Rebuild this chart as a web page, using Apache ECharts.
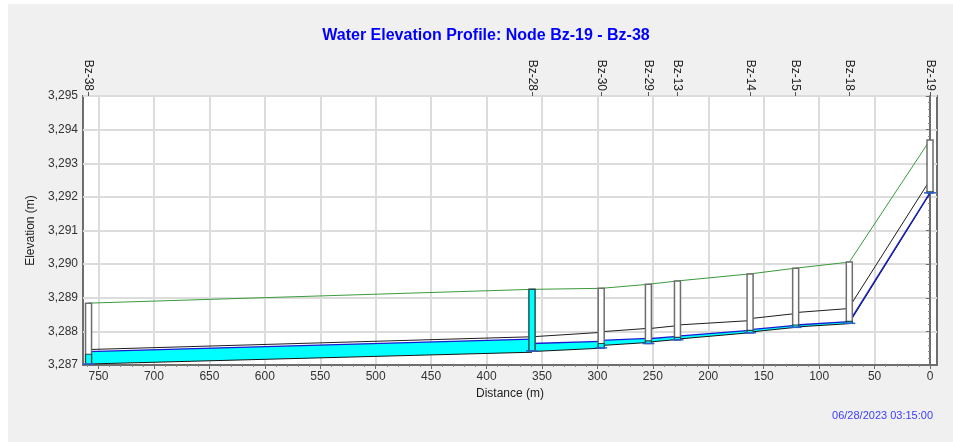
<!DOCTYPE html>
<html>
<head>
<meta charset="utf-8">
<title>Water Elevation Profile</title>
<script src="https://cdn.jsdelivr.net/npm/echarts@6/dist/echarts.min.js"></script>
<style>
  html, body { margin: 0; padding: 0; background: #ffffff; }
  #panel { position: absolute; left: 8px; top: 4px; width: 945px; height: 438px; background: #f0f0f0; }
  #chart { position: absolute; left: 0; top: 0; width: 953px; height: 442px; }
</style>
</head>
<body>
<div id="panel"></div>
<div id="chart"></div>
<script>
// Nodes along the profile (distance measured from Bz-19)
const nodeNames   = ['Bz-38', 'Bz-28', 'Bz-30', 'Bz-29', 'Bz-13', 'Bz-14', 'Bz-15', 'Bz-18', 'Bz-19'];
const nodeDist    = [759, 359, 296.6, 254, 227.8, 162.3, 121.2, 72.8, 0];
const nodeRim     = [3288.84, 3289.25, 3289.28, 3289.40, 3289.50, 3289.71, 3289.88, 3290.06, 3293.69];
const nodeInvert  = [3287.03, 3287.42, 3287.51, 3287.64, 3287.75, 3287.96, 3288.12, 3288.24, 3292.12];
const nodeWater   = [3287.32, 3289.25, 3287.64, 3287.72, 3287.82, 3288.03, 3288.19, 3288.30, 3292.15];

// Conduits between consecutive nodes: left end (i) and right end (i + 1)
const pipeInvertL = [3287.03, 3287.40, 3287.58, 3287.68, 3287.77, 3287.98, 3288.13, 3288.25];
const pipeInvertR = [3287.38, 3287.50, 3287.67, 3287.76, 3287.96, 3288.12, 3288.23, 3292.10];
const pipeWaterL  = [3287.40, 3287.64, 3287.73, 3287.78, 3287.86, 3288.05, 3288.19, 3288.29];
const pipeWaterR  = [3287.77, 3287.70, 3287.79, 3287.85, 3288.03, 3288.18, 3288.29, 3292.13];
const pipeCrownL  = [3287.46, 3287.84, 3287.99, 3288.08, 3288.19, 3288.38, 3288.56, 3288.72];
const pipeCrownR  = [3287.84, 3287.97, 3288.09, 3288.17, 3288.32, 3288.53, 3288.68, 3292.50];

// Axis ticks
const distMajorTicks = [0, 50, 100, 150, 200, 250, 300, 350, 400, 450, 500, 550, 600, 650, 700, 750];
const distMinorTicks = [10, 20, 30, 40, 60, 70, 80, 90, 110, 120, 130, 140, 160, 170, 180, 190,
  210, 220, 230, 240, 260, 270, 280, 290, 310, 320, 330, 340, 360, 370, 380, 390,
  410, 420, 430, 440, 460, 470, 480, 490, 510, 520, 530, 540, 560, 570, 580, 590,
  610, 620, 630, 640, 660, 670, 680, 690, 710, 720, 730, 740, 760];

const titleText = 'Water Elevation Profile: Node Bz-19 - Bz-38';
const stampText = '06/28/2023 03:15:00';

const FONT = '"Liberation Sans", Arial, sans-serif';
const DIST_MIN = -6.3, DIST_MAX = 764;

const pipeData = pipeInvertL.map((_, i) => [
  nodeDist[i], nodeDist[i + 1],
  pipeInvertL[i], pipeInvertR[i],
  pipeWaterL[i], pipeWaterR[i],
  pipeCrownL[i], pipeCrownR[i]
]);
const nodeData = nodeDist.map((d, i) => [d, nodeInvert[i], nodeRim[i], nodeWater[i]]);
const groundData = nodeDist.map((d, i) => [d, nodeRim[i]]);

function thousands(v) {
  return String(v).replace(/\B(?=(\d{3})+(?!\d))/g, ',');
}

const gridRect = { left: 83, right: 16, top: 96, bottom: 77 };

const chart = echarts.init(document.getElementById('chart'), null, { renderer: 'canvas' });

chart.setOption({
  animation: false,
  textStyle: { fontFamily: FONT },
  graphic: [
    {
      type: 'text', x: 486, y: 36, z: 10,
      style: { text: titleText, fill: '#0000ff', font: 'bold 16px ' + FONT, textAlign: 'center', textVerticalAlign: 'middle' }
    },
    {
      type: 'text', x: 933, y: 416, z: 10,
      style: { text: stampText, fill: '#3c3cff', font: '11px ' + FONT, textAlign: 'right', textVerticalAlign: 'middle' }
    }
  ],
  grid: [
    Object.assign({ show: true, backgroundColor: '#ffffff', borderColor: '#6e6e6e', borderWidth: 2, containLabel: false }, gridRect),
    Object.assign({ show: false, containLabel: false }, gridRect)
  ],
  xAxis: [
    {
      // distance axis with labels and grid lines
      type: 'value', gridIndex: 0, position: 'bottom', inverse: true,
      min: DIST_MIN, max: DIST_MAX,
      name: 'Distance (m)', nameLocation: 'middle', nameGap: 21,
      nameTextStyle: { color: '#222', fontSize: 12, fontFamily: FONT },
      axisLine: { show: true, onZero: false, lineStyle: { color: '#6e6e6e', width: 2 } },
      axisTick: { show: true, customValues: distMajorTicks, length: 4, lineStyle: { color: '#6e6e6e', width: 1 } },
      axisLabel: { show: true, customValues: distMajorTicks, color: '#333', fontSize: 12, margin: 6, fontFamily: FONT },
      splitLine: { show: true, lineStyle: { color: '#dcdcdc', width: 2 } }
    },
    {
      // node names along the top edge
      type: 'value', gridIndex: 0, position: 'top', inverse: true,
      min: DIST_MIN, max: DIST_MAX,
      axisLine: { show: false },
      axisTick: { show: true, customValues: nodeDist, length: 4, lineStyle: { color: '#555', width: 1 } },
      axisLabel: {
        show: true, customValues: nodeDist, rotate: 90, margin: 5,
        color: '#222', fontSize: 12, fontFamily: FONT,
        formatter: v => { const i = nodeDist.indexOf(v); return i >= 0 ? nodeNames[i] : ''; }
      },
      splitLine: { show: false }
    },
    {
      // minor distance ticks
      type: 'value', gridIndex: 1, position: 'bottom', inverse: true,
      min: DIST_MIN, max: DIST_MAX,
      axisLine: { show: false },
      axisTick: { show: true, customValues: distMinorTicks, length: 2, lineStyle: { color: '#8a8a8a', width: 1 } },
      axisLabel: { show: false },
      splitLine: { show: false }
    }
  ],
  yAxis: [
    {
      type: 'value', gridIndex: 0, min: 3287, max: 3295, interval: 1,
      name: 'Elevation (m)', nameLocation: 'middle', nameGap: 37, nameRotate: 90,
      nameTextStyle: { color: '#222', fontSize: 12, fontFamily: FONT },
      axisLine: { show: true, lineStyle: { color: '#6e6e6e', width: 2 } },
      axisTick: { show: true, length: 4, lineStyle: { color: '#6e6e6e', width: 1 } },
      minorTick: { show: true, splitNumber: 5, length: 2, lineStyle: { color: '#8a8a8a', width: 1 } },
      axisLabel: { color: '#333', fontSize: 12, margin: 5, fontFamily: FONT, formatter: thousands },
      splitLine: { show: true, lineStyle: { color: '#dcdcdc', width: 2 } }
    },
    {
      type: 'value', gridIndex: 1, min: 3287, max: 3295, show: false
    }
  ],
  series: [
    {
      // conduits: flow area, water surface, invert and crown
      type: 'custom', name: 'Conduits', xAxisIndex: 0, yAxisIndex: 0,
      data: pipeData, z: 3,
      encode: { x: [0, 1], y: [2, 3, 4, 5, 6, 7] },
      renderItem: (params, api) => {
        const dL = api.value(0), dR = api.value(1);
        const iL = api.coord([dL, api.value(2)]), iR = api.coord([dR, api.value(3)]);
        const wL = api.coord([dL, api.value(4)]), wR = api.coord([dR, api.value(5)]);
        const cL = api.coord([dL, api.value(6)]), cR = api.coord([dR, api.value(7)]);
        return {
          type: 'group',
          children: [
            { type: 'polygon', shape: { points: [iL, iR, wR, wL] }, style: { fill: '#00ffff', stroke: null } },
            { type: 'polyline', shape: { points: [cL, cR] }, style: { stroke: '#1e1e1e', lineWidth: 1, fill: null } },
            { type: 'polyline', shape: { points: [iL, iR] }, style: { stroke: '#141414', lineWidth: 1, fill: null } },
            { type: 'polyline', shape: { points: [wL, wR] }, style: { stroke: '#1a1ad2', lineWidth: 1.3, fill: null } }
          ]
        };
      }
    },
    {
      type: 'line', name: 'Ground', xAxisIndex: 0, yAxisIndex: 0,
      data: groundData, z: 4, showSymbol: false, symbol: 'none',
      lineStyle: { color: '#3c9a3c', width: 1 }
    },
    {
      // manholes: shaft from invert to rim with the water depth inside
      type: 'custom', name: 'Nodes', xAxisIndex: 0, yAxisIndex: 0,
      data: nodeData, z: 5,
      encode: { x: 0, y: [1, 2, 3] },
      renderItem: (params, api) => {
        const d = api.value(0);
        const bot = api.coord([d, api.value(1)]);
        const top = api.coord([d, api.value(2)]);
        const wat = api.coord([d, api.value(3)]);
        const w = 6;
        const x = bot[0] - w / 2;
        return {
          type: 'group',
          children: [
            { type: 'rect', shape: { x: x, y: top[1], width: w, height: bot[1] - top[1] },
              style: { fill: '#ffffff', stroke: '#6e6e6e', lineWidth: 1.5 } },
            { type: 'rect', shape: { x: x, y: wat[1], width: w, height: bot[1] - wat[1] },
              style: { fill: '#00ffff', stroke: '#1f4a4a', lineWidth: 1.2 } },
            { type: 'line', shape: { x1: x - 3, y1: bot[1], x2: x + w + 3, y2: bot[1] },
              style: { stroke: '#2f5fcf', lineWidth: 1.5 } }
          ]
        };
      }
    }
  ]
});
</script>
</body>
</html>
